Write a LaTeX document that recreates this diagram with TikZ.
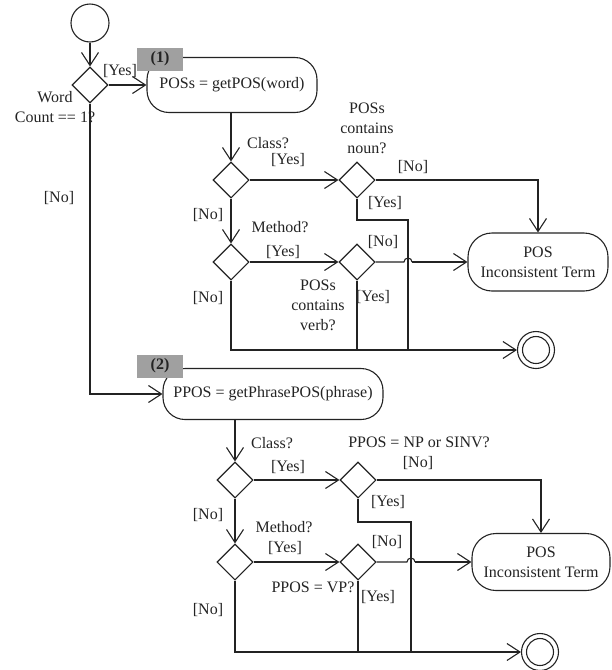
\documentclass[tikz,border=0pt]{standalone}
\usepackage{fontspec}
\setmainfont{Liberation Serif}
\usetikzlibrary{arrows.meta,shapes.geometric}
\definecolor{ink}{RGB}{35,35,35}
\definecolor{gfill}{RGB}{160,160,160}
\begin{document}
\begin{tikzpicture}[x=1pt,y=-1pt,line width=1.1pt,draw=ink,text=ink,
  font=\fontsize{16}{20}\selectfont,
  arr/.style={-{Straight Barb[length=13pt,width=17pt,line width=1.1pt]}},
  dia/.style={diamond,draw,minimum width=36pt,minimum height=36pt,inner sep=0pt},
  act/.style={draw,rounded corners=22pt,inner sep=2pt,align=center},
  term/.style={draw,rounded corners=24pt,inner sep=2pt,align=center},
  gbox/.style={fill=gfill,minimum width=46pt,minimum height=23pt,inner sep=0pt,font=\fontsize{16}{18}\selectfont\bfseries},
  startc/.style={circle,draw,minimum size=38pt,inner sep=0pt},
  final/.style={circle,draw,minimum size=37pt,inner sep=0pt},
  lab/.style={inner sep=0pt,align=center}]
\useasboundingbox (0,0) rectangle (612,670);

% nodes
\node[startc] (s) at (90,23) {};
\node[dia] (d1) at (90,85) {};
\node[act,minimum width=170pt,minimum height=55pt] (a1) at (232,85) {POSs = getPOS(word)};
\node[gbox] (g1) at (160,59) {(1)};
\node[dia] (d2) at (231,180) {};
\node[dia] (d3) at (357,180) {};
\node[dia] (d4) at (231,262) {};
\node[dia] (d5) at (357,262) {};
\node[term,minimum width=140pt,minimum height=58pt] (t1) at (538,262) {POS\\Inconsistent Term};
\node[final] (f1) at (536,350) {};
\draw (f1.center) circle[radius=13.5pt];

\node[act,minimum width=220pt,minimum height=51pt] (a2) at (273,394) {PPOS = getPhrasePOS(phrase)};
\node[gbox] (g2) at (160,366) {(2)};
\node[dia] (d6) at (235,480) {};
\node[dia] (d7) at (358,480) {};
\node[dia] (d8) at (235,562) {};
\node[dia] (d9) at (358,562) {};
\node[term,minimum width=138pt,minimum height=57pt] (t2) at (541,562) {POS\\Inconsistent Term};
\node[final] (f2) at (540,652) {};
\draw (f2.center) circle[radius=13.5pt];

% corner coordinates
\coordinate (k1) at (357,220);
\coordinate (k2) at (408,220);
\coordinate (k3) at (408,350);
\coordinate (h1) at (404,262);
\coordinate (h1e) at (412,262);
\coordinate (m1) at (358,522);
\coordinate (m2) at (411,522);
\coordinate (m3) at (411,652);
\coordinate (h2) at (407,562);
\coordinate (h2e) at (415,562);

% connectors, part 1
\draw[arr] (s) -- (d1);
\draw[arr] (d1.east) -- (a1.west);
\draw[arr] (d1.south) |- (a2.west);
\draw[arr] (a1.south -| d2) -- (d2.north);
\draw[arr] (d2.east) -- (d3.west);
\draw[arr] (d2.south) -- (d4.north);
\draw[arr] (d4.east) -- (d5.west);
\draw[arr] (d3.east) -| (t1.north);
\draw (d3.south) -- (k1) -- (k2) -- (k3);
\draw (d5.south) -- (d5.south |- f1.west);
\draw[arr] (d4.south) |- (f1.west);
\draw (d5.east) -- (h1) arc[start angle=180,end angle=0,radius=4pt];
\draw[arr] (h1e) -- (t1.west);

% connectors, part 2
\draw[arr] (a2.south -| d6) -- (d6.north);
\draw[arr] (d6.east) -- (d7.west);
\draw[arr] (d6.south) -- (d8.north);
\draw[arr] (d8.east) -- (d9.west);
\draw[arr] (d7.east) -| (t2.north);
\draw (d7.south) -- (m1) -- (m2) -- (m3);
\draw (d9.south) -- (d9.south |- f2.west);
\draw[arr] (d8.south) |- (f2.west);
\draw (d9.east) -- (h2) arc[start angle=180,end angle=0,radius=4pt];
\draw[arr] (h2e) -- (t2.west);

% labels, part 1
\node[lab] at (120,71) {[Yes]};
\node[lab] at (55,107) {Word\\Count == 1?};
\node[lab] at (59,198) {[No]};
\node[lab] at (268,143) {Class?};
\node[lab] at (288,160) {[Yes]};
\node[lab] at (367,128) {POSs\\contains\\noun?};
\node[lab] at (413,167) {[No]};
\node[lab] at (385,203) {[Yes]};
\node[lab] at (208,215) {[No]};
\node[lab] at (280,227) {Method?};
\node[lab] at (283,252) {[Yes]};
\node[lab] at (383,242) {[No]};
\node[lab] at (318,305) {POSs\\contains\\verb?};
\node[lab] at (373,297) {[Yes]};
\node[lab] at (208,298) {[No]};

% labels, part 2
\node[lab] at (272,443) {Class?};
\node[lab] at (288,467) {[Yes]};
\node[lab] at (419,442) {PPOS = NP or SINV?};
\node[lab] at (418,463) {[No]};
\node[lab] at (388,502) {[Yes]};
\node[lab] at (208,515) {[No]};
\node[lab] at (284,527) {Method?};
\node[lab] at (285,548) {[Yes]};
\node[lab] at (387,542) {[No]};
\node[lab] at (313,587) {PPOS = VP?};
\node[lab] at (378,597) {[Yes]};
\node[lab] at (208,610) {[No]};
\end{tikzpicture}
\end{document}
